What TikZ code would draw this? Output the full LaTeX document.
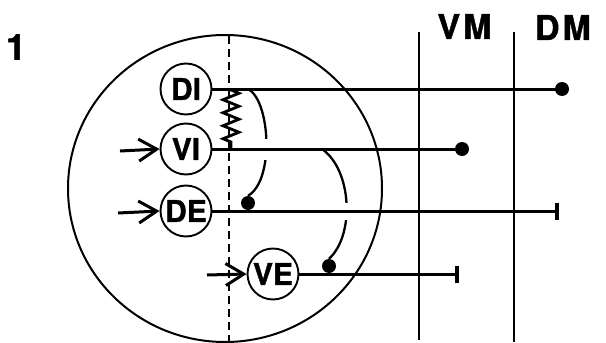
\documentclass[tikz,border=0pt]{standalone}
\usepackage{fontspec}
\setmainfont{TeX Gyre Heros}
\newfontfamily\heavyfont[FakeBold=1.2]{TeX Gyre Heros Bold}
\usetikzlibrary{arrows.meta,decorations.pathmorphing}
\begin{document}
\begin{tikzpicture}[x=1pt,y=-1pt,
  cell/.style={draw, circle, line width=1.9pt, minimum size=51pt, inner sep=0pt,
    font=\fontsize{30}{31}\heavyfont},
  biglabel/.style={inner sep=0pt, font=\fontsize{34}{36}\heavyfont},
  axon/.style={line width=3pt},
  memb/.style={line width=2.8pt},
  soma/.style={line width=2pt},
  dotend/.style={circle, fill=black, minimum size=14pt, inner sep=0pt},
  barend/.style={-{Bar[width=17pt,line width=4pt]}},
  input/.style={line width=3pt, -{Straight Barb[length=18pt,width=22pt,line width=3pt]}},
  junction/.style={line width=2.3pt},
  gap/.style={fill=white, draw=none},
  zz/.style={line width=2.8pt, decorate,
    decoration={zigzag, amplitude=8pt, segment length=13pt, pre length=1pt, post length=1pt}},
  midline/.style={line width=2pt, dash pattern=on 8pt off 5pt}
]
\useasboundingbox (0,0) rectangle (606,343);

% label "1"
\node[biglabel, font=\fontsize{36}{38}\heavyfont] (one) at (16,47) {1};

% big circle and midline
\draw[soma] (225,188.5) ellipse [x radius=157, y radius=153.5];
\coordinate (mtop) at (229,36);
\coordinate (mbot) at (229,342);
\draw[midline] (mtop) -- (mbot);

% cells
\node[cell] (DI) at (186,89) {DI};
\node[cell] (VI) at (186,149) {VI};
\node[cell] (DE) at (186,211) {DE};
\node[cell] (VE) at (273,274) {VE};

% membranes
\coordinate (vmtop) at (419,32);
\coordinate (vmbot) at (419,340);
\coordinate (dmtop) at (514,32);
\coordinate (dmbot) at (514,342);
\draw[memb] (vmtop) -- (vmbot);
\draw[memb] (dmtop) -- (dmbot);
\node[biglabel] (VM) at (464.5,26.5) {V\kern3pt M};
\node[biglabel] (DM) at (563,27.5) {D\kern3pt M};

% end markers
\node[dotend] (dDI) at (562,89) {};
\node[dotend] (dVI) at (462,149) {};
\node[dotend] (dA1) at (248,203) {};
\node[dotend] (dA2) at (329,266) {};
\coordinate (bDE) at (559,211);
\coordinate (bVE) at (459,274);

% branch start points
\coordinate (a1s) at (248,89);
\coordinate (a2s) at (322,149);

% arcs (junctions)
\draw[junction] (a1s) .. controls (270,100) and (275,180) .. (dA1.north);
\draw[junction] (a2s) .. controls (352,170) and (355,235) .. (dA2.north);
\fill[gap] (258,139) rectangle (274,160);
\fill[gap] (337,203) rectangle (354,220);

% axons
\draw[axon] (DI.east) -- (dDI.center);
\draw[axon] (VI.east) -- (dVI.center);
\draw[axon, barend] (DE.east) -- (bDE);
\draw[axon, barend] (VE.east) -- (bVE);

% zigzag coupling
\coordinate (zt) at (231,89);
\coordinate (zb) at (231,149);
\draw[zz] (zt) -- (zb);

% inputs
\coordinate (iVI) at (120,151);
\coordinate (iDE) at (118,213);
\coordinate (iVE) at (207,275);
\draw[input] (iVI) -- (VI.west);
\draw[input] (iDE) -- (DE.west);
\draw[input] (iVE) -- (VE.west);
\end{tikzpicture}
\end{document}
